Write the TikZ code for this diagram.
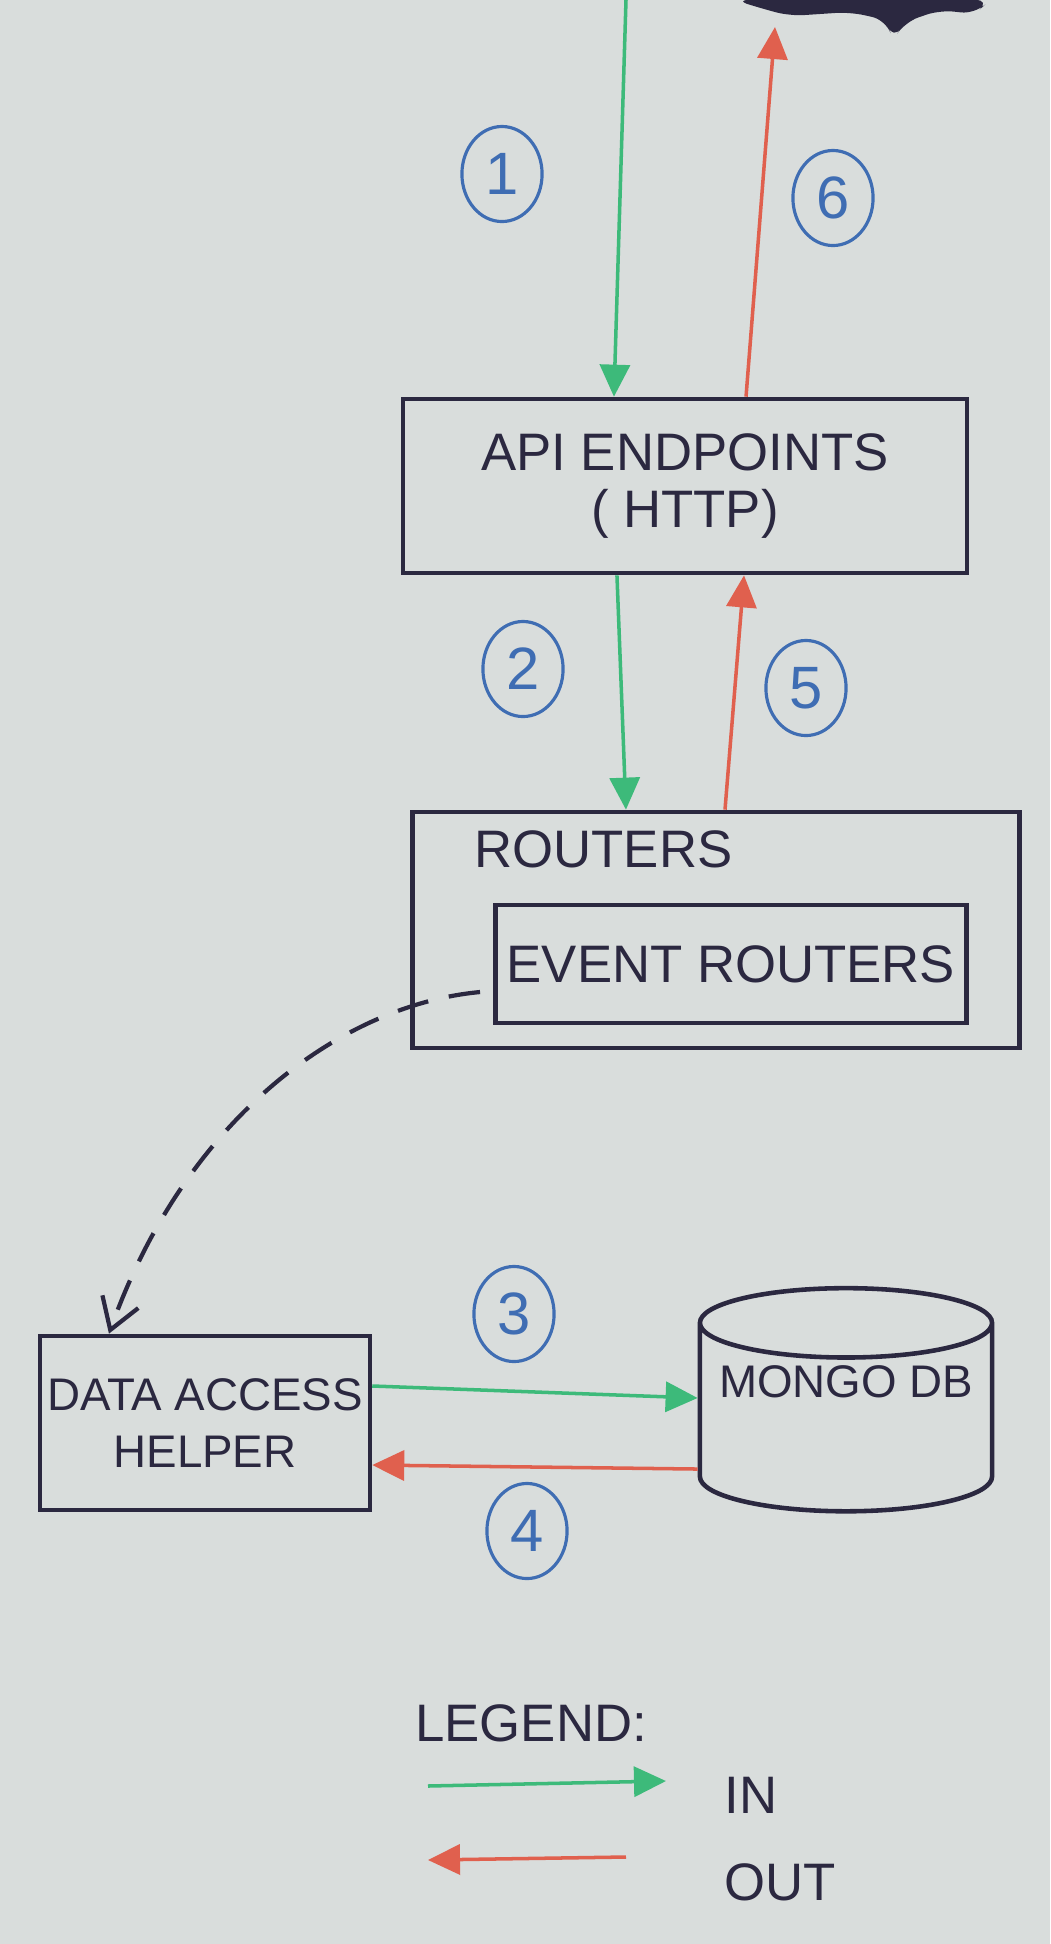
\documentclass[tikz,border=0pt]{standalone}
\usepackage{fontspec}
\setmainfont{Liberation Sans}
\usetikzlibrary{arrows.meta,shapes.geometric}
\definecolor{board}{HTML}{D9DDDC}
\definecolor{ink}{HTML}{2B2840}
\definecolor{ingreen}{HTML}{3DBA7A}
\definecolor{outred}{HTML}{E0604E}
\definecolor{numblue}{HTML}{3F6DB3}
\begin{document}
\begin{tikzpicture}
  [x=0.01cm, y=-0.01cm,
   box/.style={draw=ink, line width=1.3pt, rectangle, text=ink, align=center,
     inner sep=2pt, font=\fontsize{15}{16}\selectfont},
   lbl/.style={text=ink, font=\fontsize{15}{18}\selectfont},
   stepno/.style={shape=ellipse, draw=numblue, text=numblue, line width=0.9pt,
     minimum width=0.7cm, minimum height=0.95cm, font=\fontsize{17}{20}\selectfont},
   inarrow/.style={ingreen, line width=1pt, -{Triangle[length=0.32cm, width=0.3cm]}},
   outarrow/.style={outred, line width=1pt, -{Triangle[length=0.32cm, width=0.3cm]}}]
  % Whiteboard
  \fill[board] (0,0) rectangle (1050,1944);
  \useasboundingbox (0,0) rectangle (1050,1944);
  % Client at the top edge (cut off)
  \fill[ink, rounded corners=4pt] (735,0) -- (990,0) -- (975,14) -- (940,10)
    -- (905,22) -- (893,40) -- (886,20) -- (850,12) -- (790,16) -- (760,8) -- cycle;
  \coordinate (entry) at (626,0);
  \coordinate (exit) at (775,27);

  % Boxes
  \node[box, minimum width=5.64cm, minimum height=1.74cm] (api) at (685,486)
    {API ENDPOINTS\\( HTTP)};
  \node[box, minimum width=6.07cm, minimum height=2.36cm] (routers) at (716,930) {};
  \node[lbl, anchor=west] (routerslbl) at (462,849) {ROUTERS};
  \node[box, minimum width=4.71cm, minimum height=1.18cm] (events) at (731,964)
    {EVENT ROUTERS};
  \node[box, minimum width=3.25cm, minimum height=1.74cm,
    font=\fontsize{13}{16}\selectfont] (dah) at (205,1423) {DATA ACCESS\\HELPER};
  \node[draw=ink, line width=1.3pt, cylinder, shape border rotate=90, aspect=0.25,
    minimum width=2.92cm, minimum height=2.23cm, text=ink,
    font=\fontsize{13}{16}\selectfont] (mongo) at (846,1425)
    {\raisebox{0.28cm}[0pt][0pt]{MONGO DB}};

  % In (green) and out (red) flows
  \draw[inarrow] (entry) -- ([xshift=-0.71cm]api.north);
  \draw[outarrow] ([xshift=0.61cm]api.north) -- (exit);
  \draw[inarrow] ([xshift=-0.68cm]api.south) -- ([xshift=-0.9cm]routers.north);
  \draw[outarrow] ([xshift=0.09cm]routers.north) -- ([xshift=0.59cm]api.south);
  \draw[inarrow] ([yshift=0.37cm]dah.east) -- ([yshift=0.27cm]mongo.west);
  \draw[outarrow] ([yshift=-0.44cm]mongo.west) -- ([yshift=-0.42cm]dah.east);
  % Event routers call the helper
  \draw[ink, line width=1.2pt, dash pattern=on 9pt off 6pt,
    -{Straight Barb[length=0.3cm, width=0.38cm]}]
    ([xshift=-0.13cm, yshift=-0.28cm]events.west)
    .. controls (340,1005) and (185,1120) .. ([xshift=-0.96cm]dah.north);

  % Step numbers
  \foreach \n/\x/\y in {1/502/174, 6/833/198, 2/523/669, 5/806/688,
                        3/514/1314, 4/527/1531} {
    \node[stepno] (step\n) at (\x,\y) {\n};
  }

  % Legend
  \node[lbl, anchor=west] (legend) at (403,1723) {LEGEND:};
  \coordinate (ina) at (428,1786);
  \coordinate (inb) at (666,1781);
  \draw[inarrow] (ina) -- (inb);
  \node[lbl, anchor=west] (intext) at (712,1795) {IN};
  \coordinate (outa) at (626,1857);
  \coordinate (outb) at (428,1860);
  \draw[outarrow] (outa) -- (outb);
  \node[lbl, anchor=west] (outtext) at (712,1882) {OUT};
\end{tikzpicture}
\end{document}
